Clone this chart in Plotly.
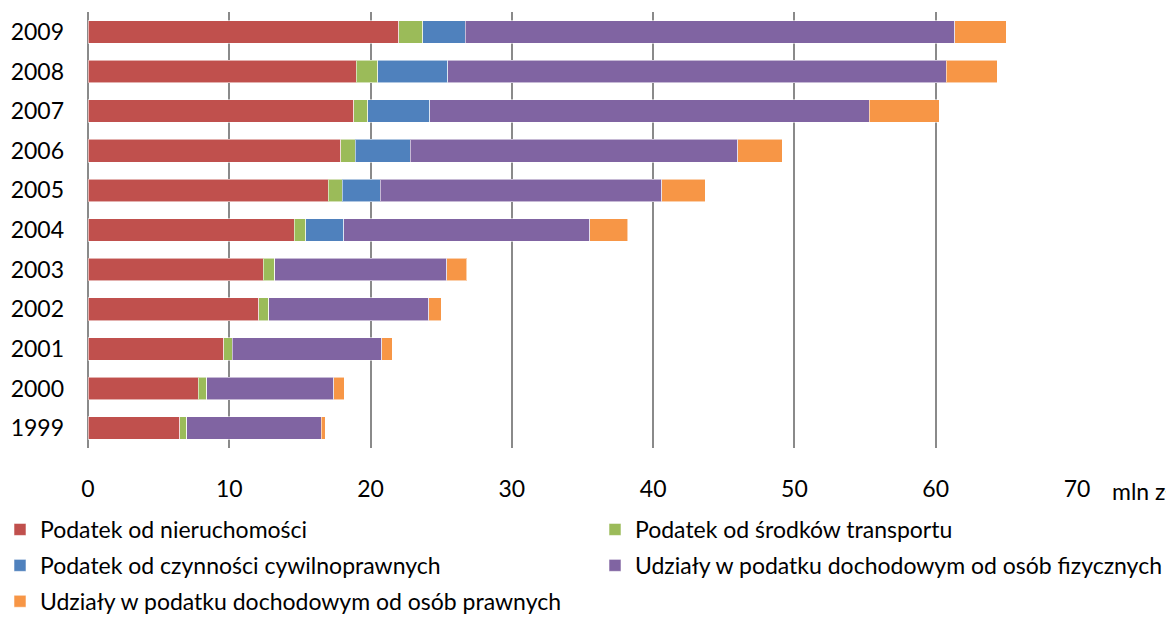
import plotly.graph_objects as go

years = ["1999", "2000", "2001", "2002", "2003", "2004", "2005", "2006", "2007", "2008", "2009"]
nieruchomosci = [6.5, 7.8, 9.6, 12.1, 12.4, 14.6, 17.0, 17.9, 18.8, 19.0, 22.0]
transport = [0.5, 0.6, 0.6, 0.7, 0.8, 0.8, 1.0, 1.0, 1.0, 1.5, 1.7]
cywilnoprawne = [0, 0, 0, 0, 0, 2.7, 2.7, 3.9, 4.4, 4.95, 3.0]
pit = [9.5, 9.0, 10.6, 11.3, 12.2, 17.4, 19.9, 23.2, 31.1, 35.3, 34.65]
cit = [0.3, 0.75, 0.75, 0.9, 1.4, 2.7, 3.1, 3.15, 4.95, 3.6, 3.65]

names = [
    "Podatek od nieruchomości",
    "Podatek od środków transportu",
    "Podatek od czynności cywilnoprawnych",
    "Udziały w podatku dochodowym od osób fizycznych",
    "Udziały w podatku dochodowym od osób prawnych",
]
colors = ["#C0504D", "#9BBB59", "#4F81BD", "#8064A2", "#F79646"]
series = [nieruchomosci, transport, cywilnoprawne, pit, cit]
legends = ["legend", "legend2", "legend", "legend2", "legend"]

FONT = "Lato"
FS = 23
LFS = 23

fig = go.Figure()
for i, (nm, col, vals, lg) in enumerate(zip(names, colors, series, legends)):
    fig.add_trace(go.Bar(
        y=years, x=vals, name=nm, orientation="h",
        marker=dict(color=col, line=dict(color="rgba(255,255,255,0.55)", width=1)),
        legend=lg, legendgroup="g%d" % i,
    ))

# the page body has an 8px margin, so the figure is sized to fit the window
OFF = 8
W, H = 1174 - OFF, 617 - OFF
L, R, T, B = 88 - OFF, 97, 12 - OFF, 169
PW, PH = W - L - R, H - T - B


def px_x(p):
    """screen x (window pixels) -> paper x"""
    return (p - OFF - L) / PW


def px_y(p):
    """screen y (window pixels) -> paper y"""
    return (H - B - (p - OFF)) / PH


fig.update_layout(
    width=W, height=H,
    margin=dict(l=L, r=R, t=T, b=B, autoexpand=False),
    barmode="stack", bargap=0.43,
    plot_bgcolor="white", paper_bgcolor="white",
    font=dict(family=FONT, size=FS, color="black"),
    xaxis=dict(
        range=[0, 70], tickvals=[0, 10, 20, 30, 40, 50, 60, 70],
        showgrid=True, gridcolor="#8A8A8A", gridwidth=1.5,
        zeroline=True, zerolinecolor="#8A8A8A", zerolinewidth=1.5,
        showline=False, ticks="", ticklabelstandoff=25,
        tickfont=dict(family=FONT, size=FS, color="black"),
        automargin=False,
    ),
    yaxis=dict(
        showgrid=False, zeroline=False, showline=False, ticks="",
        ticklabelstandoff=23,
        tickfont=dict(family=FONT, size=FS, color="black"),
        automargin=False,
    ),
    legend=dict(
        orientation="v", xref="paper", yref="paper",
        x=px_x(0), y=px_y(508), xanchor="left", yanchor="top",
        traceorder="grouped", tracegroupgap=3,
        font=dict(family=FONT, size=LFS, color="black"),
        bgcolor="rgba(0,0,0,0)",
    ),
    legend2=dict(
        orientation="v", xref="paper", yref="paper",
        x=px_x(595), y=px_y(508), xanchor="left", yanchor="top",
        traceorder="grouped", tracegroupgap=3,
        font=dict(family=FONT, size=LFS, color="black"),
        bgcolor="rgba(0,0,0,0)",
    ),
    annotations=[dict(
        text="mln zł", xref="paper", yref="paper",
        x=px_x(1110), y=px_y(491),
        xanchor="left", yanchor="middle", showarrow=False,
        font=dict(family=FONT, size=FS, color="black"),
    )],
)

fig.write_html("out.html")
